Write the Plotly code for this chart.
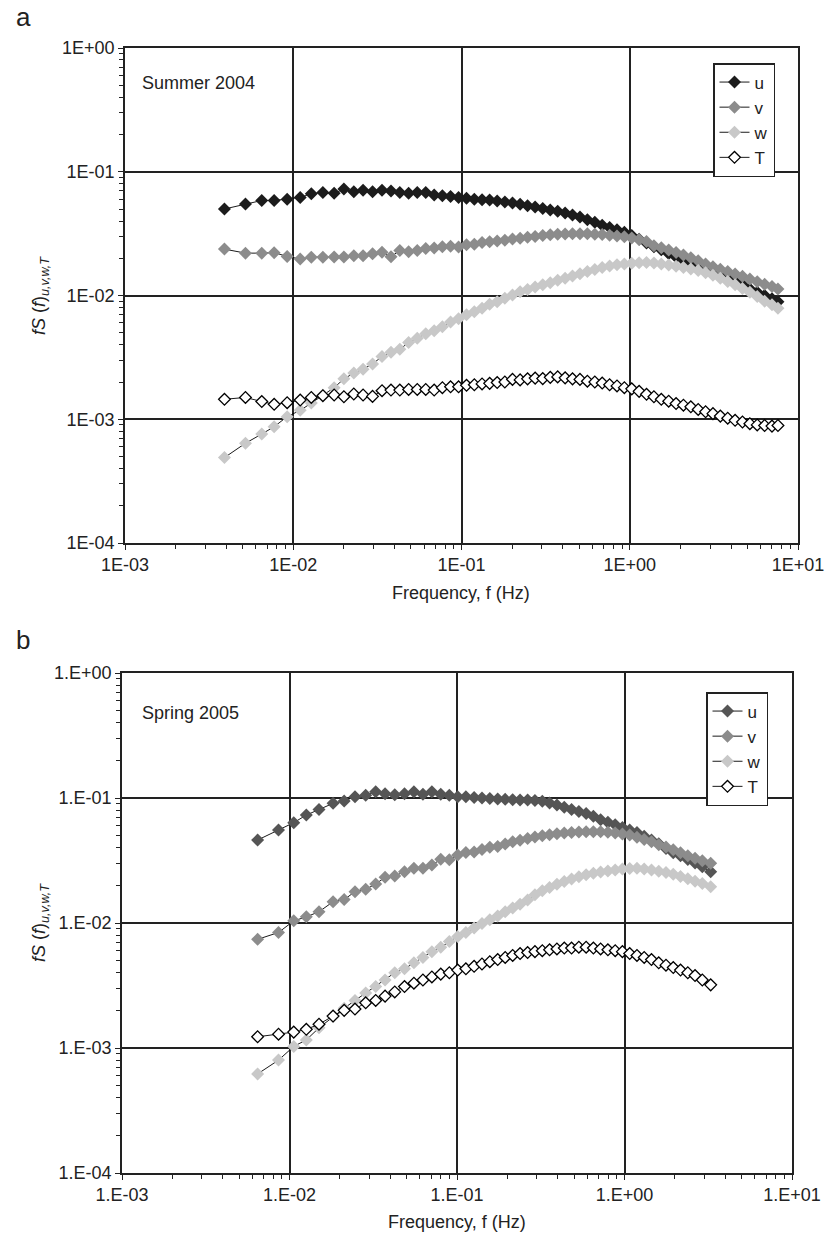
import plotly.graph_objects as go

# ---------------- data: panel a (Summer 2004) ----------------
freq_a = [0.0039, 0.0052, 0.0065, 0.0077, 0.0092, 0.0110, 0.0128, 0.0150, 0.0175, 0.0200,
          0.0229, 0.0260, 0.0296, 0.0337, 0.0381, 0.0430, 0.0485, 0.0546, 0.0613, 0.0688,
          0.0770, 0.0861, 0.0961, 0.1071, 0.1192, 0.1325, 0.147, 0.163, 0.181, 0.201,
          0.223, 0.247, 0.274, 0.304, 0.337, 0.373, 0.413, 0.457, 0.506, 0.560,
          0.620, 0.686, 0.759, 0.840, 0.929, 1.028, 1.137, 1.258, 1.392, 1.540,
          1.704, 1.885, 2.085, 2.307, 2.552, 2.823, 3.123, 3.455, 3.822, 4.228,
          4.677, 5.174, 5.724, 6.332, 7.005, 7.6]

u_a = [0.050, 0.055, 0.0586, 0.0586, 0.060, 0.062, 0.0664, 0.068, 0.067, 0.0724,
       0.069, 0.071, 0.069, 0.071, 0.070, 0.068, 0.067, 0.068, 0.068, 0.065,
       0.064, 0.063, 0.062, 0.061, 0.060, 0.0595, 0.059, 0.058, 0.057, 0.056,
       0.0545, 0.053, 0.052, 0.0505, 0.049, 0.048, 0.0465, 0.0447, 0.043, 0.041,
       0.039, 0.037, 0.0355, 0.034, 0.0325, 0.0305, 0.0285, 0.0266, 0.0248, 0.0234,
       0.0218, 0.0205, 0.0194, 0.0183, 0.0173, 0.0163, 0.0154, 0.0146, 0.0138, 0.0130,
       0.0122, 0.0113, 0.0106, 0.0100, 0.0094, 0.0089]

v_a = [0.0237, 0.022, 0.022, 0.0222, 0.0207, 0.0197, 0.0204, 0.0204, 0.0205, 0.0205,
       0.021, 0.021, 0.0217, 0.0224, 0.0206, 0.0231, 0.0226, 0.0231, 0.024, 0.0242,
       0.0248, 0.025, 0.0246, 0.0257, 0.026, 0.0268, 0.0272, 0.0276, 0.028, 0.0286,
       0.029, 0.0295, 0.030, 0.0305, 0.031, 0.0312, 0.0314, 0.0315, 0.0316, 0.0315,
       0.0313, 0.0311, 0.0307, 0.0302, 0.0298, 0.0292, 0.0284, 0.0273, 0.0252, 0.0243,
       0.0233, 0.0223, 0.0212, 0.0202, 0.0191, 0.0180, 0.0171, 0.0163, 0.0156, 0.0149,
       0.0143, 0.0136, 0.0129, 0.0123, 0.0118, 0.0113]

w_a = [0.00049, 0.00064, 0.00076, 0.00087, 0.00105, 0.00118, 0.00135, 0.00157, 0.0018, 0.00212,
       0.00236, 0.00254, 0.0028, 0.00321, 0.00348, 0.00368, 0.00417, 0.00452, 0.0049, 0.0052,
       0.0056, 0.0061, 0.0065, 0.0070, 0.0074, 0.0079, 0.0085, 0.0089, 0.0095, 0.0101,
       0.0107, 0.0112, 0.0117, 0.0122, 0.0127, 0.0133, 0.0138, 0.0144, 0.0150, 0.0156,
       0.0162, 0.0168, 0.0173, 0.0177, 0.0180, 0.0182, 0.0184, 0.0185, 0.0183, 0.0180,
       0.0176, 0.0172, 0.0168, 0.0164, 0.0159, 0.0153, 0.0146, 0.0138, 0.0130, 0.0122,
       0.0114, 0.0106, 0.0098, 0.0090, 0.0084, 0.0079]

T_a = [0.00145, 0.0015, 0.00139, 0.00132, 0.00136, 0.00143, 0.0015, 0.00155, 0.00157, 0.00152,
       0.0016, 0.00157, 0.00153, 0.0017, 0.00172, 0.00172, 0.00174, 0.00174, 0.00174, 0.00172,
       0.0018, 0.00183, 0.00183, 0.00188, 0.0019, 0.00193, 0.00195, 0.00198, 0.0020, 0.0021,
       0.00208, 0.00212, 0.00215, 0.00213, 0.00218, 0.0022, 0.00216, 0.00212, 0.0021, 0.00203,
       0.0020, 0.00196, 0.0019, 0.00186, 0.0018, 0.00176, 0.00168, 0.00159, 0.00152, 0.00145,
       0.0014, 0.00134, 0.0013, 0.00126, 0.0012, 0.00115, 0.00111, 0.00106, 0.00102, 0.00098,
       0.00095, 0.00092, 0.0009, 0.00089, 0.00088, 0.00089]

# ---------------- data: panel b (Spring 2005) ----------------
freq_b = [0.00645, 0.0086, 0.0106, 0.0126, 0.0150, 0.0182, 0.0212, 0.0246, 0.0285, 0.0327,
          0.0372, 0.0425, 0.0486, 0.0553, 0.0626, 0.0708, 0.0800, 0.0900, 0.1010, 0.1130,
          0.1265, 0.1410, 0.157, 0.175, 0.194, 0.215, 0.238, 0.264, 0.292, 0.323,
          0.357, 0.395, 0.437, 0.483, 0.534, 0.590, 0.652, 0.720, 0.796, 0.880,
          0.972, 1.074, 1.187, 1.311, 1.449, 1.601, 1.769, 1.955, 2.160, 2.387,
          2.637, 2.914, 3.27]

u_b = [0.0461, 0.0555, 0.0635, 0.073, 0.081, 0.0906, 0.0946, 0.1025, 0.105, 0.112,
       0.108, 0.106, 0.108, 0.112, 0.107, 0.112, 0.107, 0.105, 0.1025, 0.1025,
       0.101, 0.100, 0.099, 0.098, 0.0975, 0.097, 0.0965, 0.0962, 0.0955, 0.094,
       0.091, 0.088, 0.0845, 0.081, 0.078, 0.075, 0.0715, 0.067, 0.064, 0.061,
       0.058, 0.0555, 0.053, 0.0495, 0.0461, 0.043, 0.0395, 0.0365, 0.0345, 0.0322,
       0.0302, 0.0282, 0.0257]

v_b = [0.0074, 0.0084, 0.0104, 0.0112, 0.0123, 0.0148, 0.0154, 0.0178, 0.0186, 0.0205,
       0.0232, 0.0238, 0.0257, 0.0274, 0.0274, 0.0291, 0.0323, 0.032, 0.035, 0.0366,
       0.037, 0.0388, 0.0403, 0.041, 0.0429, 0.0447, 0.046, 0.0475, 0.0487, 0.0498,
       0.0508, 0.0517, 0.0524, 0.053, 0.0535, 0.0538, 0.0538, 0.0536, 0.0532, 0.0525,
       0.0515, 0.0505, 0.0485, 0.0465, 0.0447, 0.0423, 0.0405, 0.0385, 0.0365, 0.0345,
       0.033, 0.0315, 0.030]

w_b = [0.00062, 0.0008, 0.00103, 0.00116, 0.00145, 0.00178, 0.00208, 0.0024, 0.00276, 0.0031,
       0.0035, 0.0040, 0.0043, 0.0048, 0.0053, 0.0059, 0.0064, 0.0071, 0.0078, 0.0084,
       0.0091, 0.0099, 0.0106, 0.0114, 0.0123, 0.0132, 0.0141, 0.0153, 0.0168, 0.0181,
       0.0192, 0.0204, 0.0215, 0.0225, 0.0234, 0.0243, 0.0250, 0.0256, 0.0261, 0.0266,
       0.0270, 0.0273, 0.0274, 0.0271, 0.0266, 0.0260, 0.0253, 0.0245, 0.0236, 0.0226,
       0.0216, 0.0207, 0.0195]

T_b = [0.00123, 0.00129, 0.00134, 0.00141, 0.00155, 0.0018, 0.0020, 0.00205, 0.0023, 0.0024,
       0.0026, 0.00281, 0.0031, 0.0033, 0.0035, 0.0037, 0.0039, 0.0040, 0.0042, 0.0043,
       0.0045, 0.0047, 0.0049, 0.0051, 0.0053, 0.0055, 0.0057, 0.0058, 0.0059, 0.0060,
       0.0061, 0.0062, 0.0063, 0.0063, 0.0064, 0.0064, 0.0063, 0.0062, 0.0061, 0.0060,
       0.0059, 0.0057, 0.0055, 0.0053, 0.0051, 0.0048, 0.0046, 0.0044, 0.0042, 0.0040,
       0.0038, 0.0035, 0.0032]

series_names = ["u", "v", "w", "T"]
x_tick_vals = [0.001, 0.01, 0.1, 1, 10]
y_tick_vals = [0.0001, 0.001, 0.01, 0.1, 1]
x_ticks_a = ["1E-03", "1E-02", "1E-01", "1E+00", "1E+01"]
y_ticks_a = ["1E-04", "1E-03", "1E-02", "1E-01", "1E+00"]
x_ticks_b = ["1.E-03", "1.E-02", "1.E-01", "1.E+00", "1.E+01"]
y_ticks_b = ["1.E-04", "1.E-03", "1.E-02", "1.E-01", "1.E+00"]
minor_x = [m * 10.0 ** e for e in range(-3, 1) for m in range(2, 10)]
minor_y = [m * 10.0 ** e for e in range(-4, 0) for m in range(2, 10)]

FONT = "Liberation Sans, Arial, sans-serif"
W, H = 835, 1240

fills_a = ["#1c1c1c", "#8c8c8c", "#c8c8c8", "#ffffff"]
fills_b = ["#555555", "#8c8c8c", "#c8c8c8", "#ffffff"]

fig = go.Figure()


def add_panel(freq, ys, fills, xa, ya, legend):
    for name, y, fc in zip(series_names, ys, fills):
        is_open = name == "T"
        fig.add_trace(go.Scatter(
            x=freq, y=y, name=name, mode="lines+markers",
            xaxis=xa, yaxis=ya, legend=legend,
            line=dict(color="#000000", width=0.9),
            marker=dict(symbol="diamond", size=10 if not is_open else 9, color=fc,
                        line=dict(color="#000000", width=1.3 if is_open else 0)),
        ))


add_panel(freq_a, [u_a, v_a, w_a, T_a], fills_a, "x", "y", "legend")
add_panel(freq_b, [u_b, v_b, w_b, T_b], fills_b, "x2", "y2", "legend2")


def axis_common(tv, ticktext, rng, minor_vals, domain, anchor):
    return dict(
        type="log", range=rng, domain=domain, anchor=anchor, automargin=False,
        tickmode="array", tickvals=tv, ticktext=ticktext,
        ticks="outside", ticklen=5, tickwidth=1.2, tickcolor="#222",
        showgrid=True, gridcolor="#222222", gridwidth=1.6,
        showline=True, linecolor="#222222", linewidth=1.6, mirror=True,
        zeroline=False,
        tickfont=dict(family=FONT, size=18, color="#222"),
        minor=dict(tickmode="array", tickvals=minor_vals, ticks="outside",
                   ticklen=4, tickwidth=1, tickcolor="#222", showgrid=False),
    )


ya_dom = [1 - 543 / H, 1 - 48 / H]
yb_dom = [1 - 1173 / H, 1 - 673 / H]
xa_dom = [125 / W, 798 / W]
xb_dom = [122 / W, 792 / W]

fig.update_layout(
    width=W, height=H,
    margin=dict(l=0, r=0, t=0, b=0, pad=0, autoexpand=False),
    paper_bgcolor="white", plot_bgcolor="white",
    font=dict(family=FONT, color="#222"),
    xaxis=axis_common(x_tick_vals, x_ticks_a, [-3, 1], minor_x, xa_dom, "y"),
    yaxis=axis_common(y_tick_vals, y_ticks_a, [-4, 0], minor_y, ya_dom, "x"),
    xaxis2=axis_common(x_tick_vals, x_ticks_b, [-3, 1], minor_x, xb_dom, "y2"),
    yaxis2=axis_common(y_tick_vals, y_ticks_b, [-4, 0], minor_y, yb_dom, "x2"),
    legend=dict(x=713 / W, y=1 - 63 / H, xanchor="left", yanchor="top",
                bgcolor="white", bordercolor="#222", borderwidth=1.5,
                font=dict(family=FONT, size=17, color="#222"),
                itemwidth=30, tracegroupgap=0),
    legend2=dict(x=706 / W, y=1 - 692 / H, xanchor="left", yanchor="top",
                 bgcolor="white", bordercolor="#222", borderwidth=1.5,
                 font=dict(family=FONT, size=17, color="#222"),
                 itemwidth=30, tracegroupgap=0),
    showlegend=True,
)

ytitle = "<i>fS</i> (<i>f</i>)<sub><i>u,v,w,T</i></sub>"
anns = [
    dict(text="a", x=14 / W, y=1 - 17 / H, xanchor="left", yanchor="middle",
         font=dict(size=26)),
    dict(text="b", x=14 / W, y=1 - 640 / H, xanchor="left", yanchor="middle",
         font=dict(size=26)),
    dict(text="Summer 2004", x=140 / W, y=1 - 83 / H, xanchor="left", yanchor="middle",
         font=dict(size=18)),
    dict(text="Spring 2005", x=140 / W, y=1 - 713 / H, xanchor="left", yanchor="middle",
         font=dict(size=18)),
    dict(text="Frequency, f (Hz)", x=461 / W, y=1 - 593 / H, xanchor="center",
         yanchor="middle", font=dict(size=18)),
    dict(text="Frequency, f (Hz)", x=457 / W, y=1 - 1222 / H, xanchor="center",
         yanchor="middle", font=dict(size=18)),
    dict(text=ytitle, x=40 / W, y=1 - 296 / H, xanchor="center", yanchor="middle",
         textangle=-90, font=dict(size=18)),
    dict(text=ytitle, x=40 / W, y=1 - 923 / H, xanchor="center", yanchor="middle",
         textangle=-90, font=dict(size=18)),
]
for a in anns:
    a.update(xref="paper", yref="paper", showarrow=False)
    a["font"].update(family=FONT, color="#222")
fig.update_layout(annotations=anns)

fig.write_html("out.html")
